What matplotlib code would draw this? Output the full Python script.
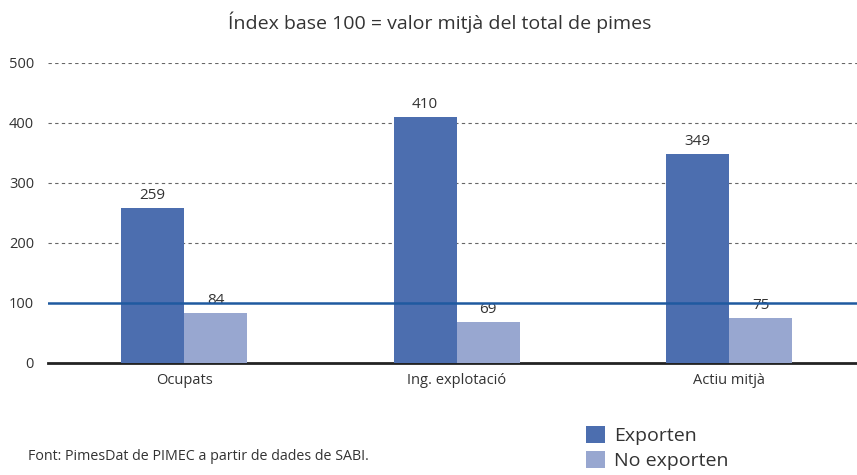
import matplotlib
matplotlib.use("Agg")
import matplotlib.pyplot as plt
import numpy as np

plt.rcParams['font.family'] = ['Open Sans', 'DejaVu Sans']

categories = ["Ocupats", "Ing. explotació", "Actiu mitjà"]
exporten = [259, 410, 349]
no_exporten = [84, 69, 75]
yticks = [0, 100, 200, 300, 400, 500]

c_exp = "#4C6EAF"
c_noexp = "#98A7D0"

fig = plt.figure(figsize=(8.57, 4.75), dpi=100)
ax = fig.add_axes([48/857, 112/475, 1 - 48/857, (363-63)/475])

x = np.arange(len(categories))
w = 0.231
b1 = ax.bar(x - w/2, exporten, w, color=c_exp, label="Exporten", zorder=3)
b2 = ax.bar(x + w/2, no_exporten, w, color=c_noexp, label="No exporten", zorder=3)

for rect, v in list(zip(b1, exporten)) + list(zip(b2, no_exporten)):
    ax.text(rect.get_x() + rect.get_width()/2, v + 8, str(v), ha="center", va="bottom",
            fontsize=11, color="#333333", zorder=4)

ax.set_xlim(-0.5, 2.47)
ax.set_ylim(0, 500)
ax.set_yticks(yticks)
ax.set_yticklabels([str(t) for t in yticks], fontsize=10.5, color="#333333")
ax.set_xticks(x)
ax.set_xticklabels(categories, fontsize=10.5, color="#333333")
ax.tick_params(axis="both", length=0, pad=7)
ax.tick_params(axis="y", pad=10)

for t in yticks[2:]:
    ax.axhline(t, color="#666666", linestyle=(0, (3, 3)), linewidth=0.8, zorder=1)
ax.axhline(100, color="#1F5AA0", linewidth=1.8, zorder=5)

for s in ["top", "right", "left"]:
    ax.spines[s].set_visible(False)
ax.spines["bottom"].set_color("#222222")
ax.spines["bottom"].set_linewidth(2)

fig.text(440/857, 1 - 22/475, "Índex base 100 = valor mitjà del total de pimes",
         ha="center", va="center", fontsize=14, color="#333333")
fig.text(28/857, 1 - 457/475, "Font: PimesDat de PIMEC a partir de dades de SABI.",
         ha="left", va="center", fontsize=10.3, color="#333333")

leg = fig.legend(handles=[b1, b2], loc="upper left", bbox_to_anchor=(578/857, 1 - 418/475),
                 frameon=False, fontsize=14, handlelength=1.0, handleheight=1.0,
                 handletextpad=0.45, labelspacing=0.3, borderaxespad=0)
for t in leg.get_texts():
    t.set_color("#333333")

fig.savefig("out.png", dpi=100)
